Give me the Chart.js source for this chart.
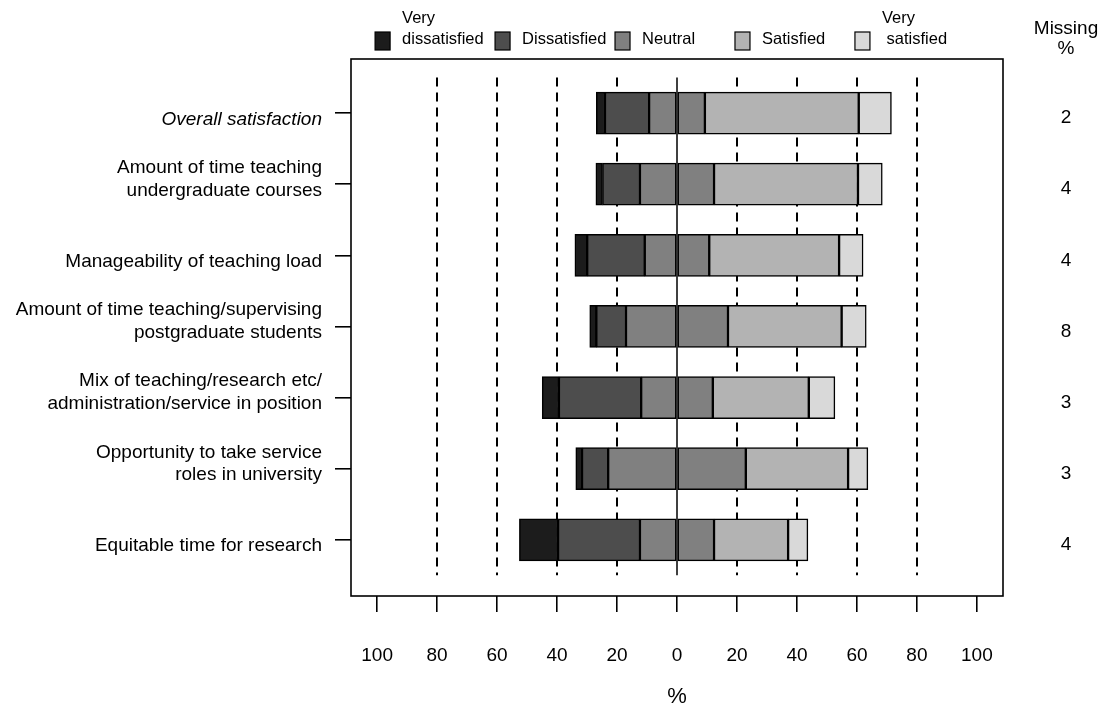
<!DOCTYPE html>
<html>
<head>
<meta charset="utf-8">
<script src="https://cdn.jsdelivr.net/npm/chart.js@4/dist/chart.umd.min.js"></script>
<style>
  html, body { margin: 0; padding: 0; background: #ffffff; }
  #wrap { width: 1103px; height: 725px; position: relative; }
</style>
</head>
<body>
<div id="wrap"><canvas id="chart" width="1103" height="725"></canvas></div>
<script>
// Survey items (label lines) and response shares, in %
const categories = [
  ['Overall satisfaction'],
  ['Amount of time teaching', 'undergraduate courses'],
  ['Manageability of teaching load'],
  ['Amount of time teaching/supervising', 'postgraduate students'],
  ['Mix of teaching/research etc/', 'administration/service in position'],
  ['Opportunity to take service', 'roles in university'],
  ['Equitable time for research']
];
const veryDissatisfied = [2.9, 2.2, 4.1, 2.2, 5.6, 2.1, 12.9];
const dissatisfied     = [14.7, 12.5, 19.2, 9.9, 27.4, 8.7, 27.3];
const neutral          = [18.6, 24.7, 21.5, 34.0, 23.9, 45.9, 24.7];
const satisfied        = [51.3, 48.0, 43.3, 37.9, 32.0, 34.1, 24.7];
const verySatisfied    = [10.9, 8.1, 8.0, 8.2, 8.7, 6.6, 6.6];
const missing          = [2, 4, 4, 8, 3, 3, 4];
const xTickValues      = [-100, -80, -60, -40, -20, 0, 20, 40, 60, 80, 100];

const seriesNames  = [['Very', 'dissatisfied'], ['Dissatisfied'], ['Neutral'], ['Satisfied'], ['Very', ' satisfied']];
const seriesColors = ['#1c1c1c', '#4d4d4d', '#808080', '#b3b3b3', '#d9d9d9'];

const FONT = "'Liberation Sans', Arial, Helvetica, sans-serif";

const toPoints = (arr, f) => arr.map((v, i) => ({ x: f(v), y: i }));
const barStyle = (c) => ({
  backgroundColor: c, borderColor: '#000000', borderWidth: 1.5,
  borderSkipped: false, barThickness: 42
});

// Left of zero: half of neutral, then dissatisfied, then very dissatisfied.
// Right of zero: other half of neutral, satisfied, very satisfied.
const datasets = [
  { label: 'Neutral', data: toPoints(neutral, v => -v / 2), ...barStyle(seriesColors[2]) },
  { label: 'Dissatisfied', data: toPoints(dissatisfied, v => -v), ...barStyle(seriesColors[1]) },
  { label: 'Very dissatisfied', data: toPoints(veryDissatisfied, v => -v), ...barStyle(seriesColors[0]) },
  { label: 'Neutral', data: toPoints(neutral, v => v / 2), ...barStyle(seriesColors[2]) },
  { label: 'Satisfied', data: toPoints(satisfied, v => v), ...barStyle(seriesColors[3]) },
  { label: 'Very satisfied', data: toPoints(verySatisfied, v => v), ...barStyle(seriesColors[4]) }
];

// Reference lines behind the bars, plus frame, key and missing column on top
const decorations = {
  id: 'decorations',
  beforeDatasetsDraw(chart) {
    const { ctx, scales: { x, y } } = chart;
    const y0 = y.getPixelForValue(-0.5);
    const y1 = y.getPixelForValue(categories.length - 0.5);
    ctx.save();
    ctx.strokeStyle = '#000000';
    ctx.lineWidth = 2;
    ctx.setLineDash([9, 6]);
    xTickValues.filter(v => v !== 0 && Math.abs(v) < 100).forEach(v => {
      const px = Math.round(x.getPixelForValue(v));
      ctx.beginPath(); ctx.moveTo(px, y0); ctx.lineTo(px, y1); ctx.stroke();
    });
    ctx.setLineDash([]);
    ctx.lineWidth = 1.5;
    const zx = x.getPixelForValue(0);
    ctx.beginPath(); ctx.moveTo(zx, y0); ctx.lineTo(zx, y1); ctx.stroke();
    ctx.restore();
  },
  afterDraw(chart) {
    const { ctx, chartArea: a, scales: { x, y } } = chart;
    ctx.save();
    // frame
    ctx.strokeStyle = '#000000';
    ctx.lineWidth = 1.6;
    ctx.strokeRect(a.left, a.top, a.right - a.left, a.bottom - a.top);

    // key along the top
    ctx.font = `16.5px ${FONT}`;
    ctx.textBaseline = 'middle';
    ctx.textAlign = 'left';
    seriesNames.forEach((lines, i) => {
      const px = x.getPixelForValue(-100 + 40 * i) - 2;
      ctx.fillStyle = seriesColors[i];
      ctx.fillRect(px, 32, 15, 18);
      ctx.lineWidth = 1.2;
      ctx.strokeStyle = '#000000';
      ctx.strokeRect(px, 32, 15, 18);
      ctx.fillStyle = '#000000';
      if (lines.length === 2) {
        ctx.fillText(lines[0], px + 27, 18);
        ctx.fillText(lines[1], px + 27, 39);
      } else {
        ctx.fillText(lines[0], px + 27, 39);
      }
    });

    // missing column
    const mx = 1066;
    ctx.font = `19px ${FONT}`;
    ctx.textAlign = 'center';
    ctx.fillStyle = '#000000';
    ctx.fillText('Missing', mx, 29);
    ctx.fillText('%', mx, 49);
    missing.forEach((m, i) => {
      ctx.fillText(String(m), mx, y.getPixelForValue(i) + 5);
    });
    ctx.restore();
  }
};

new Chart(document.getElementById('chart'), {
  type: 'bar',
  data: { datasets },
  options: {
    indexAxis: 'y',
    responsive: false,
    devicePixelRatio: 1,
    animation: false,
    layout: { padding: { top: 59, right: 100, left: 0, bottom: 0 } },
    plugins: { legend: { display: false }, tooltip: { enabled: false } },
    scales: {
      x: {
        type: 'linear',
        stacked: true,
        min: -108.7,
        max: 108.7,
        afterBuildTicks: (scale) => { scale.ticks = xTickValues.map(v => ({ value: v })); },
        afterFit: (scale) => { scale.height = 129; },
        border: { display: false },
        grid: { drawOnChartArea: false, drawTicks: true, tickLength: 16, color: '#000000', lineWidth: 1.6 },
        ticks: {
          color: '#000000',
          padding: 32,
          maxRotation: 0,
          autoSkip: false,
          font: { family: FONT, size: 19 },
          callback: (v) => String(Math.abs(v))
        },
        title: {
          display: true,
          text: '%',
          color: '#000000',
          font: { family: FONT, size: 22 },
          padding: { top: 0, bottom: 15 }
        }
      },
      y: {
        type: 'linear',
        stacked: true,
        reverse: true,
        offset: false,
        min: -0.76,
        max: 6.79,
        afterBuildTicks: (scale) => { scale.ticks = categories.map((_, i) => ({ value: i })); },
        afterFit: (scale) => { scale.width = 351; },
        border: { display: false },
        grid: { offset: false, drawOnChartArea: false, drawTicks: true, tickLength: 16, color: '#000000', lineWidth: 1.6 },
        ticks: {
          color: '#000000',
          padding: 13,
          labelOffset: -5,
          autoSkip: false,
          font: (ctx) => ({ family: FONT, size: 19, lineHeight: 1.2, style: ctx.index === 0 ? 'italic' : 'normal' }),
          callback: (v) => {
            const lines = categories[v] || [];
            return lines.length === 1 ? ['', lines[0]] : lines;
          }
        }
      }
    }
  },
  plugins: [decorations]
});
</script>
</body>
</html>
